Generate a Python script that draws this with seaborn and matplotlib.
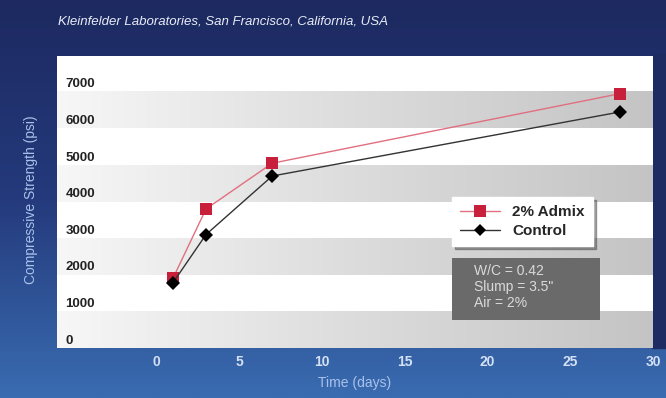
import numpy as np
import pandas as pd
import matplotlib
matplotlib.use("Agg")
import matplotlib.pyplot as plt
import matplotlib.transforms as mtransforms
from matplotlib.colors import LinearSegmentedColormap
from matplotlib.lines import Line2D
from matplotlib.patches import Rectangle
import seaborn as sns

days = [1, 3, 7, 28]
admix = [1900, 3800, 5050, 6950]
control = [1780, 3100, 4700, 6450]
series_names = ["2% Admix", "Control"]
x_ticks = [0, 5, 10, 15, 20, 25, 30]
y_ticks = [0, 1000, 2000, 3000, 4000, 5000, 6000, 7000]
title = "Kleinfelder Laboratories, San Francisco, California, USA"
note = "W/C = 0.42\nSlump = 3.5\"\nAir = 2%"

df = pd.DataFrame({
    "Time (days)": days + days,
    "Strength": admix + control,
    "series": [series_names[0]] * len(days) + [series_names[1]] * len(days),
})

sns.set_style("white")
plt.rcParams["font.family"] = ["Liberation Sans", "DejaVu Sans"]

W, H = 666, 398
fig = plt.figure(figsize=(W / 100, H / 100), dpi=100)

# blue background gradient
bg = fig.add_axes([0, 0, 1, 1], zorder=-5)
bg_cmap = LinearSegmentedColormap.from_list("bg", ["#1d2960", "#243a7c", "#3a6cb1"])
bg.imshow(np.linspace(0, 1, 256).reshape(-1, 1), aspect="auto", cmap=bg_cmap,
          extent=[0, 1, 0, 1], origin="upper")
bg.add_patch(Rectangle((652 / W, 1 - 348 / H), 14 / W, 294 / H, color="#1e2a62"))
bg.set_xlim(0, 1)
bg.set_ylim(0, 1)
bg.set_axis_off()

ax = fig.add_axes([57 / W, 1 - 348 / H, 596 / W, 292 / H])

# alternating gray bands with a horizontal gradient
band_cmap = LinearSegmentedColormap.from_list("band", ["#f7f7f7", "#dcdcdc", "#c4c4c4"])
grad = np.linspace(0, 1, 256).reshape(1, -1)
for y0 in y_ticks[::2]:
    ax.imshow(grad, aspect="auto", cmap=band_cmap, extent=[-6, 30, y0, y0 + 1000],
              zorder=0)
ax.set_xlim(-6, 30)
ax.set_ylim(0, 7980)

sns.lineplot(data=df, x="Time (days)", y="Strength", hue="series", style="series",
             palette=["#c8203a", "#111111"], markers=["s", "D"], dashes=False,
             markersize=8, linewidth=1.0, markeredgewidth=0, ax=ax, zorder=3,
             legend=False)
ax.lines[0].set_color("#e07080")
ax.lines[0].set_markerfacecolor("#c8203a")
ax.lines[1].set_color("#333333")
ax.lines[1].set_markerfacecolor("#000000")
ax.lines[1].set_markersize(7)

for s in ax.spines.values():
    s.set_visible(False)

ax.set_xticks(x_ticks)
ax.set_xticklabels([str(t) for t in x_ticks], color="#d4e0f4", fontweight="bold", fontsize=10)
ax.tick_params(axis="x", length=0, pad=5)
for lbl in ax.get_xticklabels():
    lbl.set_clip_on(False)

ax.set_yticks(y_ticks)
ax.set_yticklabels([str(t) for t in y_ticks], color="#222222", fontweight="bold", fontsize=9.5)
ax.tick_params(axis="y", length=0, pad=-6)
offset = mtransforms.ScaledTranslation(0, 9 / 100, fig.dpi_scale_trans)
for lbl in ax.get_yticklabels():
    lbl.set_horizontalalignment("left")
    lbl.set_transform(lbl.get_transform() + offset)

ax.set_xlabel("Time (days)", color="#a9c2ea", fontsize=10, labelpad=5)
ax.set_ylabel("")
fig.text(31 / W, 1 - 200 / H, "Compressive Strength (psi)", rotation=90, color="#a9c2ea",
         fontsize=10, ha="center", va="center")
fig.text(58 / W, 1 - 22 / H, title, color="#e8ecf6", fontsize=9.5, style="italic",
         ha="left", va="center")

# legend box
handles = [
    Line2D([], [], color="#e07080", marker="s", markerfacecolor="#c8203a",
           markeredgewidth=0, markersize=8, linewidth=1.0),
    Line2D([], [], color="#333333", marker="D", markerfacecolor="#000000",
           markeredgewidth=0, markersize=6, linewidth=1.0),
]
leg = ax.legend(handles, series_names, loc="upper left",
                bbox_to_anchor=((452 - 57) / 596, (348 - 197) / 292),
                frameon=True, fancybox=False, shadow=True, borderpad=0.55,
                handlelength=2.6, handletextpad=0.8, labelspacing=0.3,
                borderaxespad=0, prop={"weight": "bold", "size": 11})
frame = leg.get_frame()
frame.set_facecolor("white")
frame.set_edgecolor("white")
frame.set_alpha(1)
frame.set_width(frame.get_width() + 24)
leg.set_zorder(5)

# info box
ax.add_patch(Rectangle(((452 - 57) / 596, (348 - 320) / 292), 148 / 596, 62 / 292,
                       transform=ax.transAxes, facecolor="#6a6a6a", edgecolor="none",
                       zorder=6))
ax.text((474 - 57) / 596, (348 - 264) / 292, note, transform=ax.transAxes,
        color="#dadada", fontsize=10, ha="left", va="top", linespacing=1.2, zorder=7)

fig.savefig("out.png", dpi=100)
